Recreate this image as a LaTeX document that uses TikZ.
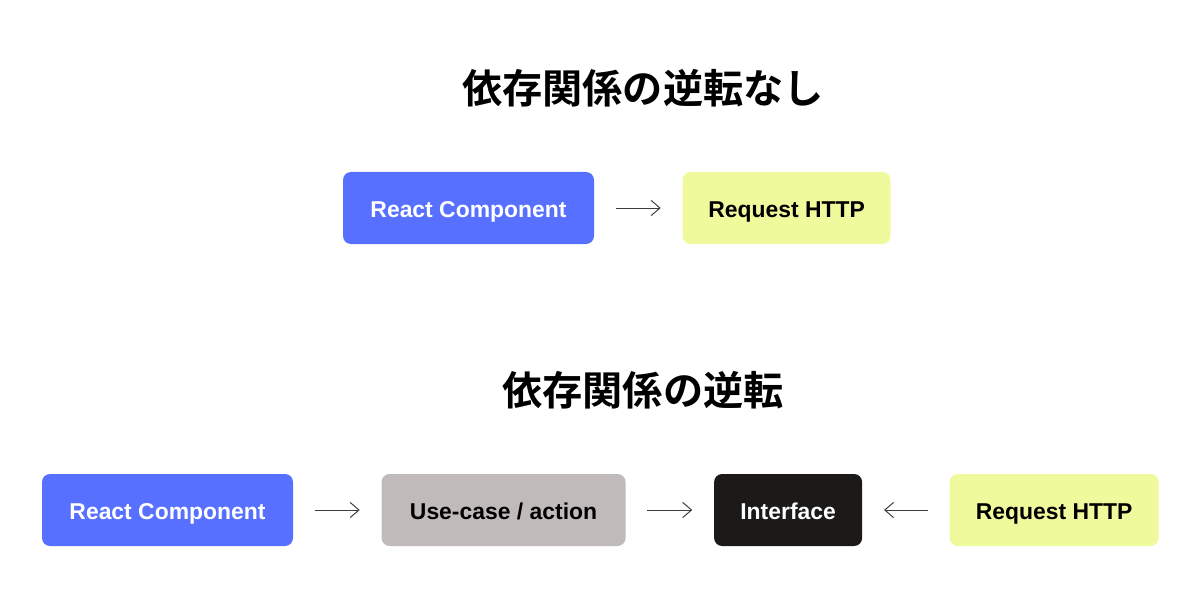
\documentclass[tikz,border=0pt]{standalone}
\usepackage{fontspec}
\setmainfont{Liberation Sans}
\newfontfamily\cjk{Noto Sans CJK JP}[BoldFont={Noto Sans CJK JP Bold}]
\usetikzlibrary{positioning,arrows.meta}
\definecolor{reactblue}{RGB}{88,112,255}
\definecolor{httpyellow}{RGB}{238,250,156}
\definecolor{usecasegray}{RGB}{192,186,186}
\definecolor{ifaceblack}{RGB}{28,26,25}
\definecolor{arrowgray}{RGB}{60,60,60}
\tikzstyle{block} = [rectangle, rounded corners=0.2cm, minimum height=1.8cm,
inner sep=0pt, text height=13.8pt, text depth=0pt, align=center,
font=\fontsize{16.3}{19}\selectfont\bfseries]
\tikzstyle{title} = [font=\cjk\fontsize{28.6}{34}\selectfont\bfseries]
\tikzstyle{arrow} = [line width=0.7pt, draw=arrowgray, -{Straight Barb[length=2.2mm,width=3.8mm]},
shorten <=0.54cm, shorten >=0.54cm]

\begin{document}
\begin{tikzpicture} [node distance=2.2cm]
  \useasboundingbox (0,0) rectangle (30,-14.725);

  % without inversion
  \node (title1) [title] at (16.075,-2.2) {依存関係の逆転なし};
  \node (react1) [block, fill=reactblue, text=white, minimum width=6.275cm]
    at (11.7125,-5.2) {React Component};
  \node (http1) [block, fill=httpyellow, minimum width=5.2cm, right=of react1] {Request HTTP};

  \draw[arrow] (react1) -- (http1);

  % with inversion
  \node (title2) [title] at (16.075,-9.75) {依存関係の逆転};
  \node (react2) [block, fill=reactblue, text=white, minimum width=6.275cm]
    at (4.1875,-12.75) {React Component};
  \node (usecase) [block, fill=usecasegray, minimum width=6.1cm, right=of react2] {Use-case / action};
  \node (iface) [block, fill=ifaceblack, text=white, minimum width=3.7cm, right=of usecase] {Interface};
  \node (http2) [block, fill=httpyellow, minimum width=5.225cm, right=of iface,
    xshift=-0.025cm] {Request HTTP};

  \draw[arrow] (react2) -- (usecase);
  \draw[arrow] (usecase) -- (iface);
  \draw[arrow] (http2) -- (iface);

\end{tikzpicture}
\end{document}
